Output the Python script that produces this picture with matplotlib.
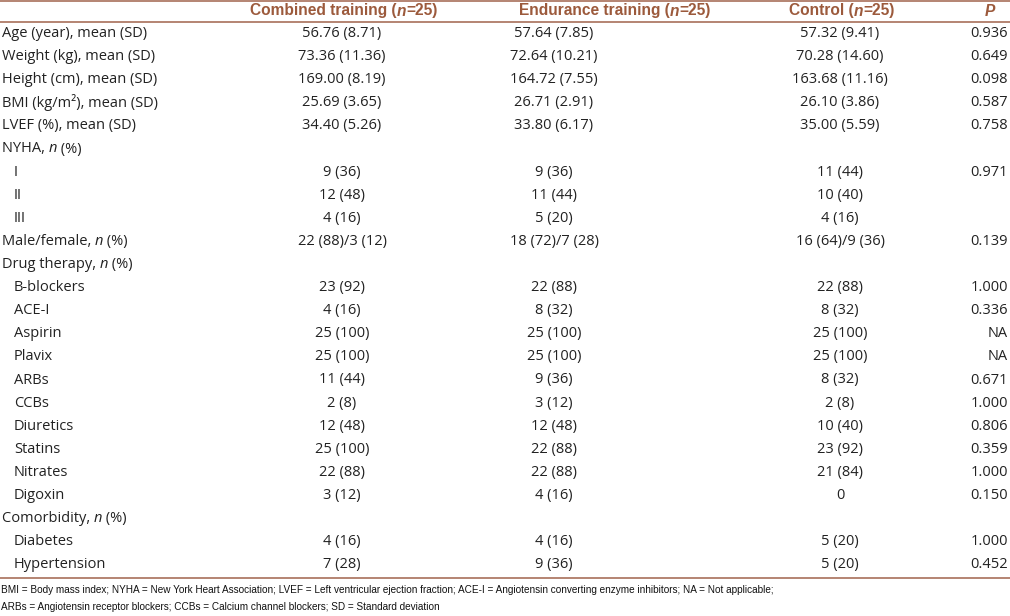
import matplotlib
matplotlib.use("Agg")
import matplotlib.pyplot as plt

# ---- table data ----
col_headers = ["Combined training", "Endurance training", "Control"]
group_n = [25, 25, 25]

row_labels = ["Age (year), mean (SD)", "Weight (kg), mean (SD)", "Height (cm), mean (SD)",
              "BMI (kg/m\u00b2), mean (SD)", "LVEF (%), mean (SD)", "NYHA, |n| (%)",
              "I", "II", "III", "Male/female, |n| (%)", "Drug therapy, |n| (%)",
              "B-blockers", "ACE-I", "Aspirin", "Plavix", "ARBs", "CCBs", "Diuretics",
              "Statins", "Nitrates", "Digoxin", "Comorbidity, |n| (%)", "Diabetes", "Hypertension"]
indented = [False] * 6 + [True] * 3 + [False, False] + [True] * 10 + [False, True, True]

combined = ["56.76 (8.71)", "73.36 (11.36)", "169.00 (8.19)", "25.69 (3.65)", "34.40 (5.26)", "",
            "9 (36)", "12 (48)", "4 (16)", "22 (88)/3 (12)", "",
            "23 (92)", "4 (16)", "25 (100)", "25 (100)", "11 (44)", "2 (8)", "12 (48)",
            "25 (100)", "22 (88)", "3 (12)", "", "4 (16)", "7 (28)"]
endurance = ["57.64 (7.85)", "72.64 (10.21)", "164.72 (7.55)", "26.71 (2.91)", "33.80 (6.17)", "",
             "9 (36)", "11 (44)", "5 (20)", "18 (72)/7 (28)", "",
             "22 (88)", "8 (32)", "25 (100)", "25 (100)", "9 (36)", "3 (12)", "12 (48)",
             "22 (88)", "22 (88)", "4 (16)", "", "4 (16)", "9 (36)"]
control = ["57.32 (9.41)", "70.28 (14.60)", "163.68 (11.16)", "26.10 (3.86)", "35.00 (5.59)", "",
           "11 (44)", "10 (40)", "4 (16)", "16 (64)/9 (36)", "",
           "22 (88)", "8 (32)", "25 (100)", "25 (100)", "8 (32)", "2 (8)", "10 (40)",
           "23 (92)", "21 (84)", "0", "", "5 (20)", "5 (20)"]
p_values = ["0.936", "0.649", "0.098", "0.587", "0.758", "",
            "0.971", "", "", "0.139", "",
            "1.000", "0.336", "NA", "NA", "0.671", "1.000", "0.806",
            "0.359", "1.000", "0.150", "", "1.000", "0.452"]

footnote = ["BMI = Body mass index; NYHA = New York Heart Association; LVEF = Left ventricular ejection "
            "fraction; ACE-I = Angiotensin converting enzyme inhibitors; NA = Not applicable;",
            "ARBs = Angiotensin receptor blockers; CCBs = Calcium channel blockers; SD = Standard deviation"]

BROWN = "#9c5a3c"
LINE = "#a8705a"
TXT = "#222222"
BODY_FONT = "Open Sans"
BODY_SIZE = 10.5
HEAD_SIZE = 11.2

fig = plt.figure(figsize=(10.10, 6.16), dpi=100)
ax = fig.add_axes([0, 0, 1, 1])
ax.set_xlim(0, 1010)
ax.set_ylim(616, 0)
ax.axis("off")
renderer = fig.canvas.get_renderer()


def draw_segments(x, y, segments, ha="left", **kw):
    # segments: list of (text, style, weight); measures each and places them side by side
    texts = []
    for s, style, weight in segments:
        t = ax.text(0, y, s, fontstyle=style, fontweight=weight, va="center", **kw)
        texts.append(t)
    widths = [t.get_window_extent(renderer).width for t in texts]
    total = sum(widths)
    if ha == "center":
        x0 = x - total / 2
    elif ha == "right":
        x0 = x - total
    else:
        x0 = x
    for t, w in zip(texts, widths):
        t.set_x(x0)
        x0 += w


def split_italic(s, weight="normal"):
    parts = s.split("|")
    return [(p, "italic" if i % 2 else "normal", weight) for i, p in enumerate(parts) if p]


# header
header_y = 11
col_x = [344, 615, 842]
for name, n, cx in zip(col_headers, group_n, col_x):
    segs = split_italic(f"{name} (|n|={n})", weight="bold")
    draw_segments(cx, header_y, segs, ha="center", color=BROWN, fontsize=HEAD_SIZE,
                  family=["Liberation Sans"])
draw_segments(990, header_y, [("P", "italic", "bold")], ha="center", color=BROWN,
              fontsize=HEAD_SIZE, family=["Liberation Sans"])

# rules
ax.plot([0, 1010], [1, 1], color=LINE, lw=1.2)
ax.plot([0, 1010], [22, 22], color=LINE, lw=1.2)
ax.plot([0, 1010], [578, 578], color=LINE, lw=1.2)

# body rows
y0, dy = 33.5, 23.1
value_x = [342, 554, 840]
for i, label in enumerate(row_labels):
    y = y0 + i * dy
    lx = 14 if indented[i] else 2
    draw_segments(lx, y, split_italic(label), ha="left", color=TXT, fontsize=BODY_SIZE,
                  family=[BODY_FONT])
    for vals, vx in zip([combined, endurance, control], value_x):
        if vals[i]:
            ax.text(vx, y, vals[i], ha="center", va="center", color=TXT,
                    fontsize=BODY_SIZE, family=[BODY_FONT])
    if p_values[i]:
        ax.text(1008, y, p_values[i], ha="right", va="center", color=TXT,
                fontsize=BODY_SIZE, family=[BODY_FONT])

# footnote
for k, line in enumerate(footnote):
    ax.text(1, 590 + k * 17, line, ha="left", va="center", color="#111111",
            fontsize=7.2, family=["Liberation Sans"])

fig.savefig("out.png", dpi=100)
